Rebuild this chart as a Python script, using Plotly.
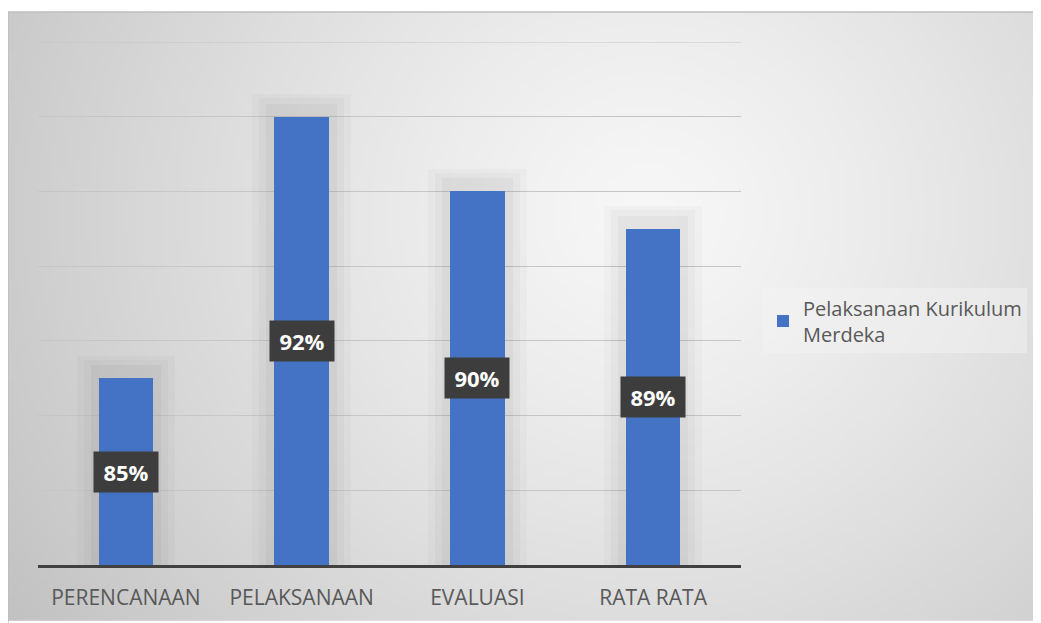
import base64, struct, zlib
import numpy as np
import plotly.graph_objects as go

categories = ["PERENCANAAN", "PELAKSANAAN", "EVALUASI", "RATA RATA"]
values = [85, 92, 90, 89]
labels = ["85%", "92%", "90%", "89%"]
series_name = "Pelaksanaan Kurikulum<br>Merdeka"
y_min, y_max, y_step = 80, 94, 2

# page body adds an 8px margin, so work in reference pixels minus 8
OFF = 8
W, H = 1041 - OFF, 623 - OFF
L, R, T, B = 38 - OFF, 1041 - 741, 42 - OFF, 623 - 567
pw, ph = W - L - R, H - T - B


def gradient_png(w, h):
    xs = np.linspace(0, 1, w)
    ys = np.linspace(0, 1, h)
    X, Y = np.meshgrid(xs, ys)
    cx, cy = 0.62, 0.33
    d = np.sqrt(((X - cx) * 1.0) ** 2 + ((Y - cy) * 0.62) ** 2)
    d = d / d.max()
    c0, c1 = 247.0, 194.0
    v = c0 + (c1 - c0) * np.clip(d, 0, 1) ** 1.25
    img = np.clip(v, 0, 255).astype(np.uint8)
    raw = b"".join(b"\x00" + bytes(np.repeat(row, 3)) for row in img)

    def chunk(t, data):
        c = struct.pack(">I", len(data)) + t + data
        return c + struct.pack(">I", zlib.crc32(t + data) & 0xffffffff)

    png = b"\x89PNG\r\n\x1a\n" + chunk(b"IHDR", struct.pack(">IIBBBBB", w, h, 8, 2, 0, 0, 0))
    png += chunk(b"IDAT", zlib.compress(raw, 9)) + chunk(b"IEND", b"")
    return "data:image/png;base64," + base64.b64encode(png).decode()


# reference pixel coords -> paper coords
px = lambda x: (x - OFF - L) / pw
py = lambda y: (H - B - (y - OFF)) / ph
cx0, cy0, cx1, cy1 = 8, 12, 1041, 623

fig = go.Figure()

# soft shadows behind bars
for wdt, op, ext in [(0.56, 0.02, 0.6), (0.48, 0.025, 0.5), (0.40, 0.03, 0.35)]:
    fig.add_trace(go.Bar(
        x=categories, y=[v - y_min + ext for v in values], base=y_min,
        width=wdt, marker=dict(color=f"rgba(0,0,0,{op})", line=dict(width=0)),
        showlegend=False, hoverinfo="skip"))

fig.add_trace(go.Bar(
    x=categories, y=[v - y_min for v in values], base=y_min,
    name=series_name, width=0.31,
    marker=dict(color="#4472C4", line=dict(width=0)),
    showlegend=True))

for c, v, lab in zip(categories, values, labels):
    fig.add_annotation(
        x=c, y=(y_min + v) / 2, text=f"<b>{lab}</b>", showarrow=False,
        font=dict(family="Open Sans, sans-serif", size=22, color="white"),
        bgcolor="#3d3d3d", width=60, height=36, borderpad=2)

fig.add_layout_image(dict(
    source=gradient_png(220, 130), xref="paper", yref="paper",
    x=px(cx0), y=py(cy0), sizex=(cx1 - cx0) / pw, sizey=(cy1 - cy0) / ph,
    sizing="stretch", layer="below", xanchor="left", yanchor="top"))

fig.add_shape(type="rect", xref="paper", yref="paper",
              x0=px(cx0), y0=py(cy1 + 3), x1=px(cx1 + 3), y1=py(cy0),
              line=dict(color="#bdbdbd", width=1.5), layer="below")

# top gridline at the range end
fig.add_shape(type="line", xref="paper", yref="y", x0=0, x1=1, y0=y_max, y1=y_max,
              line=dict(color="#c6c6c6", width=1), layer="below")

fig.update_layout(
    width=W, height=H,
    margin=dict(l=L, r=R, t=T, b=B),
    paper_bgcolor="white", plot_bgcolor="rgba(0,0,0,0)",
    barmode="overlay", bargap=0,
    font=dict(family="Open Sans, sans-serif", color="#595959"),
    legend=dict(x=px(763), y=py(322), xanchor="left", yanchor="middle",
                bgcolor="rgba(245,245,245,0.45)",
                font=dict(size=20, color="#595959"), itemwidth=30),
    xaxis=dict(showgrid=False, showline=True, linecolor="#404040", linewidth=2.5,
               tickfont=dict(size=21, color="#595959"), ticks="", ticklen=0,
               ticklabelstandoff=12),
    yaxis=dict(range=[y_min, y_max], dtick=y_step, tick0=y_min,
               showticklabels=False,
               showgrid=True, gridcolor="#c6c6c6", gridwidth=1,
               zeroline=False, showline=False, ticks=""),
    showlegend=True,
)

fig.write_html("out.html")
